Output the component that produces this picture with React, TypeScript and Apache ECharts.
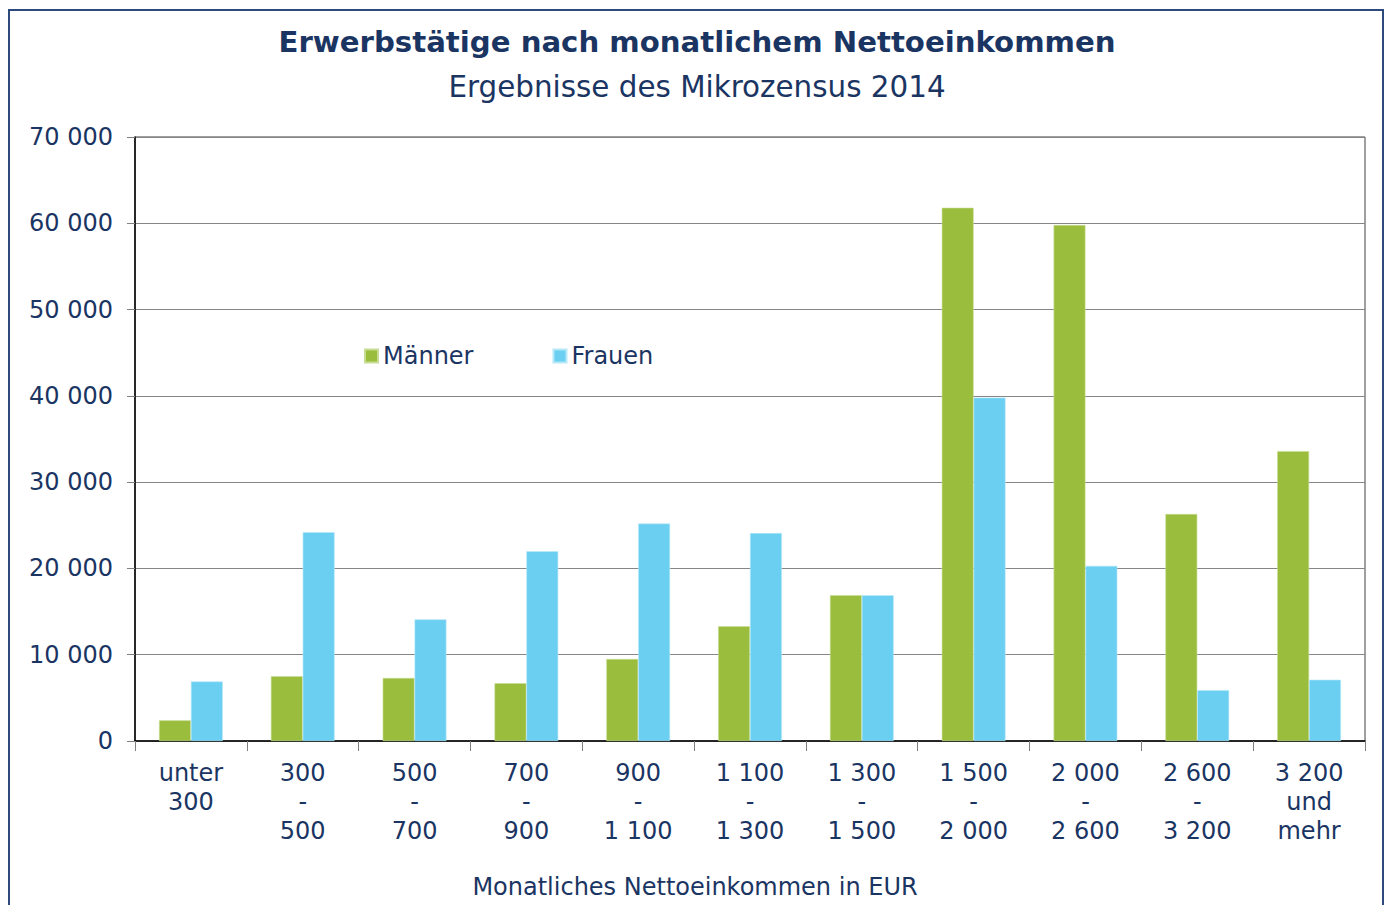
import React, { useEffect, useRef } from "react";
import * as echarts from "echarts";

const categories = [
  "unter\n300",
  "300\n-\n500",
  "500\n-\n700",
  "700\n-\n900",
  "900\n-\n1 100",
  "1 100\n-\n1 300",
  "1 300\n-\n1 500",
  "1 500\n-\n2 000",
  "2 000\n-\n2 600",
  "2 600\n-\n3 200",
  "3 200\nund\nmehr",
];
const maenner = [2400, 7500, 7300, 6700, 9500, 13300, 16900, 61800, 59800, 26300, 33600];
const frauen = [6900, 24200, 14100, 22000, 25200, 24100, 16900, 39800, 20300, 5900, 7100];

const TEXT = "#1B3563";
const FONT = "Verdana, 'DejaVu Sans', sans-serif";

export default function App() {
  const ref = useRef<HTMLDivElement>(null);
  useEffect(() => {
    if (!ref.current) return;
    const chart = echarts.init(ref.current, null, { renderer: "svg" });
    chart.setOption({
      animation: false,
      backgroundColor: "#fff",
      textStyle: { fontFamily: FONT, color: TEXT },
      title: {
        text: "Erwerbstätige nach monatlichem Nettoeinkommen",
        subtext: "Ergebnisse des Mikrozensus 2014",
        left: 692,
        textAlign: "center",
        top: 22,
        itemGap: 16,
        textStyle: { fontFamily: FONT, fontSize: 29.2, fontWeight: "bold", color: TEXT },
        subtextStyle: { fontFamily: FONT, fontSize: 29.4, color: TEXT },
      },
      legend: {
        left: 359,
        top: 339,
        itemWidth: 13,
        itemHeight: 13,
        itemGap: 79,
        icon: "rect",
        textStyle: { fontFamily: FONT, fontSize: 24, color: TEXT },
        data: ["Männer", "Frauen"],
      },
      grid: {
        left: 135,
        right: 24,
        top: 137,
        bottom: 164,
        outerBoundsMode: "none",
        containLabel: false,
        show: true,
        borderColor: "#404040",
        borderWidth: 1,
      },
      xAxis: {
        type: "category",
        data: categories,
        axisLine: { lineStyle: { color: "#000", width: 1.5 } },
        axisTick: { show: true, length: 10, lineStyle: { color: "#808080" } },
        axisLabel: {
          fontFamily: FONT,
          fontSize: 24,
          color: TEXT,
          lineHeight: 29,
          margin: 17,
          interval: 0,
          verticalAlign: "top",
        },
      },
      yAxis: {
        type: "value",
        min: 0,
        max: 70000,
        interval: 10000,
        axisLine: { show: true, lineStyle: { color: "#000", width: 1.5 } },
        axisTick: { show: true, length: 8, lineStyle: { color: "#808080" } },
        splitLine: { lineStyle: { color: "#868686", width: 1 } },
        axisLabel: {
          fontFamily: FONT,
          fontSize: 24,
          color: TEXT,
          margin: 22,
          formatter: (v: number) => {
            if (v === 0) return "0";
            const s = String(v);
            return s.slice(0, s.length - 3) + " " + s.slice(-3);
          },
        },
      },
      series: [
        {
          name: "Männer",
          type: "bar",
          data: maenner,
          barGap: "0%",
          barCategoryGap: "43%",
          itemStyle: { color: "#9BBD3E", borderColor: "#C7DD94", borderWidth: 0.6 },
        },
        {
          name: "Frauen",
          type: "bar",
          data: frauen,
          barGap: "0%",
          barCategoryGap: "43%",
          itemStyle: { color: "#6BCFF1", borderColor: "#B5E8F8", borderWidth: 0.6 },
        },
      ],
      graphic: [
        {
          type: "rect",
          shape: { x: 9, y: 10, width: 1374, height: 920 },
          style: { fill: "none", stroke: "#2E4A7D", lineWidth: 2 },
          silent: true,
        },
        {
          type: "text",
          x: 695,
          y: 887,
          style: {
            text: "Monatliches Nettoeinkommen in EUR",
            fontFamily: FONT,
            fontSize: 24,
            fill: TEXT,
            align: "center",
            verticalAlign: "middle",
          },
          silent: true,
        },
      ],
    });
    return () => chart.dispose();
  }, []);
  return (
    <div
      ref={ref}
      style={{ position: "absolute", left: 0, top: 0, width: 1389, height: 905 }}
    />
  );
}
